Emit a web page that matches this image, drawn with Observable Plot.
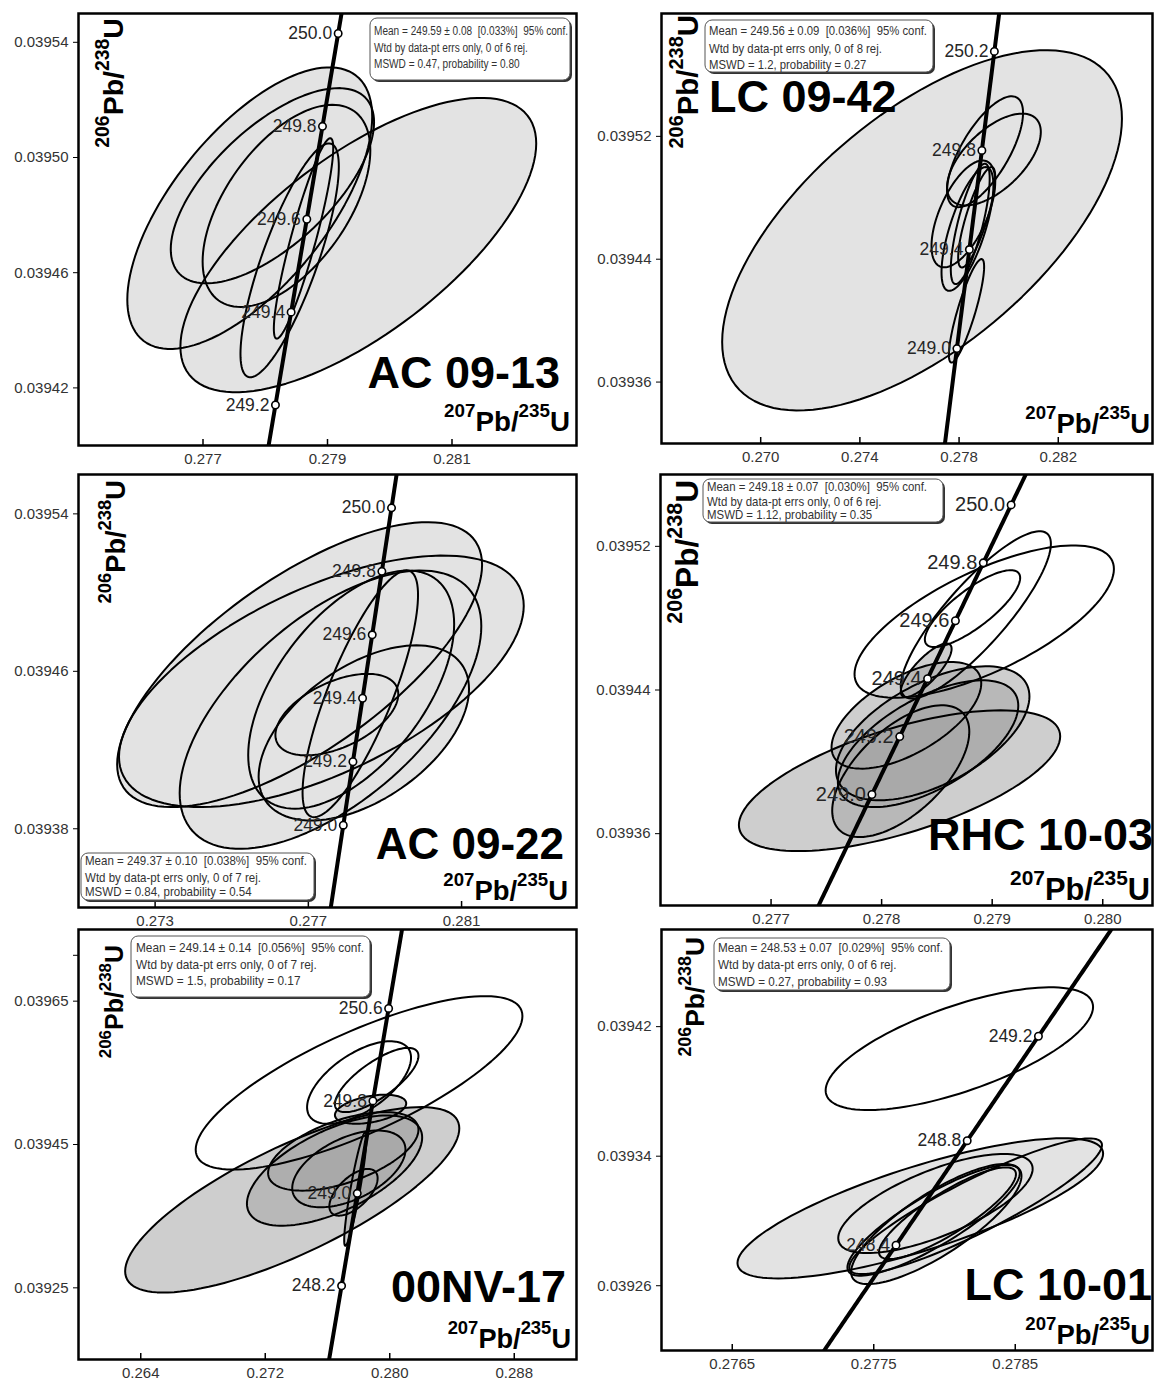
<!DOCTYPE html>
<html><head><meta charset="utf-8">
<script src="https://cdn.jsdelivr.net/npm/d3@7"></script>
<script src="https://cdn.jsdelivr.net/npm/@observablehq/plot@0.6"></script>
<style>
body{margin:0;background:#fff;}
#root{position:relative;width:1154px;height:1380px;overflow:hidden;background:#fff;}
#root svg{position:absolute;}
</style></head><body><div id="root"></div>
<script>
// ---------- DATA ----------
const sampleNames = ["AC 09-13", "LC 09-42", "AC 09-22", "RHC 10-03", "00NV-17", "LC 10-01"];
const infoText = [
  ["Mean = 249.59 ± 0.08  [0.033%]  95% conf.", "Wtd by data-pt errs only, 0 of 6 rej.", "MSWD = 0.47, probability = 0.80"],
  ["Mean = 249.56 ± 0.09  [0.036%]  95% conf.", "Wtd by data-pt errs only, 0 of 8 rej.", "MSWD = 1.2, probability = 0.27"],
  ["Mean = 249.37 ± 0.10  [0.038%]  95% conf.", "Wtd by data-pt errs only, 0 of 7 rej.", "MSWD = 0.84, probability = 0.54"],
  ["Mean = 249.18 ± 0.07  [0.030%]  95% conf.", "Wtd by data-pt errs only, 0 of 6 rej.", "MSWD = 1.12, probability = 0.35"],
  ["Mean = 249.14 ± 0.14  [0.056%]  95% conf.", "Wtd by data-pt errs only, 0 of 7 rej.", "MSWD = 1.5, probability = 0.17"],
  ["Mean = 248.53 ± 0.07  [0.029%]  95% conf.", "Wtd by data-pt errs only, 0 of 6 rej.", "MSWD = 0.27, probability = 0.93"]
];
// concordia age ticks (Ma)
const ageTicks = [
  [249.2, 249.4, 249.6, 249.8, 250.0],
  [249.0, 249.4, 249.8, 250.2],
  [249.0, 249.2, 249.4, 249.6, 249.8, 250.0],
  [249.0, 249.2, 249.4, 249.6, 249.8, 250.0],
  [248.2, 249.0, 249.8, 250.6],
  [248.4, 248.8, 249.2]
];
// axis ticks and labels
const xTicks = [[0.277,0.279,0.281],[0.270,0.274,0.278,0.282],[0.273,0.277,0.281],[0.277,0.278,0.279,0.280],[0.264,0.272,0.280,0.288],[0.276,0.277,0.278]];
const xTickLabels = [["0.277","0.279","0.281"],["0.270","0.274","0.278","0.282"],["0.273","0.277","0.281"],["0.277","0.278","0.279","0.280"],["0.264","0.272","0.280","0.288"],["0.2765","0.2775","0.2785"]];
const yTicks = [[0.03942,0.03946,0.03950,0.03954],[0.03936,0.03944,0.03952],[0.03938,0.03946,0.03954],[0.03936,0.03944,0.03952],[0.03925,0.03945,0.03965,0.039714],[0.03926,0.03934,0.03942]];
const yTickLabels = [["0.03942","0.03946","0.03950","0.03954"],["0.03936","0.03944","0.03952"],["0.03938","0.03946","0.03954"],["0.03936","0.03944","0.03952"],["0.03925","0.03945","0.03965",""],["0.03926","0.03934","0.03942"]];
const xDomains = [[0.275,0.283],[0.266,0.2858],[0.271,0.284],[0.276,0.28045],[0.26,0.292],[0.2755,0.27897]];
const yDomains = [[0.0394,0.03955],[0.03932,0.0396],[0.03934,0.03956],[0.03932,0.03956],[0.03915,0.03975],[0.03922,0.03948]];

// error ellipses: centre (x = 207Pb/235U, y = 206Pb/238U), half-extents, error correlation, used in mean
const ellipses1 = [
  {x:0.279495, y:0.0394696, sx:0.002858, sy:0.0000511, rho:0.69, used:true},
  {x:0.277751, y:0.0394824, sx:0.001967, sy:0.0000489, rho:0.65, used:true},
  {x:0.278115, y:0.0394902, sx:0.001633, sy:0.0000339, rho:0.65, used:true},
  {x:0.278341, y:0.0394832, sx:0.001347, sy:0.0000351, rho:0.55, used:true},
  {x:0.278392, y:0.0394643, sx:0.000790, sy:0.0000406, rho:0.80, used:true},
  {x:0.278615, y:0.0394719, sx:0.000477, sy:0.0000348, rho:0.90, used:true}
];
const ellipses2 = [
  {x:0.276507, y:0.0394588, sx:0.008061, sy:0.0001173, rho:0.62, used:true},
  {x:0.279047, y:0.0395100, sx:0.001532, sy:0.0000361, rho:0.70, used:true},
  {x:0.279406, y:0.0395049, sx:0.001890, sy:0.0000299, rho:0.60, used:true},
  {x:0.278173, y:0.0394695, sx:0.001285, sy:0.0000348, rho:0.60, used:true},
  {x:0.278338, y:0.0394597, sx:0.001046, sy:0.0000403, rho:0.70, used:true},
  {x:0.278450, y:0.0394630, sx:0.000784, sy:0.0000392, rho:0.75, used:true},
  {x:0.278711, y:0.0394673, sx:0.000747, sy:0.0000327, rho:0.80, used:true},
  {x:0.278300, y:0.0394064, sx:0.000710, sy:0.0000337, rho:0.85, used:true}
];
const ellipses3 = [
  {x:0.276772, y:0.0394634, sx:0.004763, sy:0.0000724, rho:0.70, used:true},
  {x:0.277340, y:0.0394549, sx:0.005283, sy:0.0000639, rho:0.60, used:true},
  {x:0.277578, y:0.0394405, sx:0.003937, sy:0.0000707, rho:0.60, used:true},
  {x:0.278118, y:0.0394507, sx:0.002688, sy:0.0000605, rho:0.55, used:true},
  {x:0.278448, y:0.0394287, sx:0.002746, sy:0.0000445, rho:0.50, used:true},
  {x:0.277744, y:0.0394380, sx:0.001604, sy:0.0000207, rho:0.50, used:true},
  {x:0.278356, y:0.0394486, sx:0.001507, sy:0.0000627, rho:0.80, used:true}
];
const ellipses4 = [
  {x:0.278928, y:0.0394781, sx:0.001173, sy:0.0000424, rho:0.69, used:false},
  {x:0.278852, y:0.0394818, sx:0.000679, sy:0.0000466, rho:0.85, used:false},
  {x:0.278822, y:0.0394853, sx:0.000431, sy:0.0000214, rho:0.80, used:false},
  {x:0.278403, y:0.0394510, sx:0.000230, sy:0.0000149, rho:0.80, used:true},
  {x:0.278224, y:0.0394259, sx:0.000677, sy:0.0000297, rho:0.60, used:true},
  {x:0.278462, y:0.0394159, sx:0.000875, sy:0.0000373, rho:0.55, used:true},
  {x:0.278420, y:0.0394101, sx:0.000816, sy:0.0000353, rho:0.60, used:true},
  {x:0.278173, y:0.0393948, sx:0.000620, sy:0.0000367, rho:0.60, used:true},
  {x:0.278162, y:0.0393895, sx:0.001453, sy:0.0000392, rho:0.63, used:true}
];
const ellipses5 = [
  {x:0.278028, y:0.0395360, sx:0.010497, sy:0.0001210, rho:0.77, used:false},
  {x:0.278028, y:0.0395365, sx:0.003340, sy:0.0000576, rho:0.60, used:false},
  {x:0.279161, y:0.0395400, sx:0.002684, sy:0.0000448, rho:0.75, used:false},
  {x:0.273733, y:0.0393728, sx:0.010736, sy:0.0001294, rho:0.77, used:true},
  {x:0.276453, y:0.0394136, sx:0.005630, sy:0.0000769, rho:0.60, used:true},
  {x:0.277014, y:0.0394404, sx:0.004831, sy:0.0000548, rho:0.55, used:true},
  {x:0.277372, y:0.0394160, sx:0.003638, sy:0.0000536, rho:0.50, used:true},
  {x:0.278767, y:0.0394992, sx:0.002290, sy:0.0000203, rho:0.40, used:true},
  {x:0.277670, y:0.0393833, sx:0.001551, sy:0.0000326, rho:0.60, used:true},
  {x:0.277789, y:0.0393880, sx:0.000716, sy:0.0000793, rho:0.90, used:true}
];
const ellipses6 = [
  {x:0.277605, y:0.0394064, sx:0.000945, sy:0.0000379, rho:0.68, used:false},
  {x:0.277329, y:0.0393078, sx:0.001292, sy:0.0000433, rho:0.78, used:true},
  {x:0.277436, y:0.0393108, sx:0.000687, sy:0.0000306, rho:0.70, used:true},
  {x:0.277423, y:0.0393004, sx:0.000609, sy:0.0000342, rho:0.85, used:true},
  {x:0.277442, y:0.0392981, sx:0.000602, sy:0.0000371, rho:0.80, used:true},
  {x:0.277521, y:0.0393048, sx:0.000484, sy:0.0000283, rho:0.85, used:true},
  {x:0.277720, y:0.0393091, sx:0.000893, sy:0.0000419, rho:0.90, used:true}
];
const allEllipses = [ellipses1, ellipses2, ellipses3, ellipses4, ellipses5, ellipses6];

// U decay constants (per Ma)
const L238 = 1.55125e-4, L235 = 9.8485e-4;

// ---------- LAYOUT ----------
const frames = [[78,13,576,445],[661,13,1152,443],[78,474,576,907],[660,474,1152,905],[78,929,576,1359],[661,929,1152,1350]];
const fillStyle = [
  {fill:"#e3e3e3", op:1}, {fill:"#e3e3e3", op:1}, {fill:"#e3e3e3", op:1},
  {fill:"#a6a6a6", op:0.55}, {fill:"#a6a6a6", op:0.55}, {fill:"#e3e3e3", op:1}
];
const ageFont = [17.5, 17.5, 17.5, 20, 17.5, 17.5];
const namePos = [{x:560,y:388,a:"end",s:45},{x:709,y:112,a:"start",s:45},{x:564,y:859,a:"end",s:44},{x:1153,y:850,a:"end",s:45},{x:566,y:1302,a:"end",s:45},{x:1152,y:1300,a:"end",s:45}];
const xLabPos = [{x:570,y:431,s:0.99},{x:1150,y:433,s:0.98},{x:568,y:900,s:0.98},{x:1150,y:900,s:1.1},{x:571,y:1348,s:0.97},{x:1150,y:1344,s:0.98}];
const yLabPos = [{x:123,y:18,s:1.02},{x:698,y:15,s:1.05},{x:125,y:480,s:0.97},{x:698,y:480,s:1.13},{x:123,y:945,s:0.89},{x:704,y:937,s:0.94}];
const boxes = [
  {l:370,t:18,r:570,b:80, tx:374, base:[34.5,52,67.5], w:194, fs:12.5},
  {l:705,t:20,r:933,b:72, tx:709, base:[35,52.5,68.5], w:218, fs:13.5},
  {l:81,t:853,r:314,b:900, tx:85, base:[865,881.5,896], w:222, fs:13.5},
  {l:703,t:479,r:943,b:522, tx:707, base:[491,505.5,519], w:220, fs:13},
  {l:131,t:936,r:370,b:997, tx:136, base:[952,969,985], w:228, fs:13.5},
  {l:714,t:938,r:950,b:990, tx:718, base:[952,969,985.5], w:225, fs:13.5}
];

const root = document.getElementById("root");
const conc = t => ({t, x: Math.expm1(L235 * t), y: Math.expm1(L238 * t)});

function outline(list) {
  const N = 120, pts = [];
  list.forEach((e, i) => {
    const q = Math.sqrt(1 - e.rho * e.rho);
    for (let k = 0; k < N; k++) {
      const a = 2 * Math.PI * k / N;
      pts.push({id: i, used: e.used, x: e.x + e.sx * Math.cos(a), y: e.y + e.sy * (e.rho * Math.cos(a) + q * Math.sin(a))});
    }
  });
  return pts;
}

for (let i = 0; i < 6; i++) {
  const f = frames[i];
  const W = f[2] - f[0], H = f[3] - f[1];
  const mL = 75, mR = 4, mT = 6, mB = 30;
  const pts = outline(allEllipses[i]);
  const ages = ageTicks[i];
  const tickPts = ages.map(t => ({...conc(t), label: t.toFixed(1)}));
  const curve = d3.range(ages[0] - 3, ages[ages.length - 1] + 3, 0.01).map(conc);
  const xt = xTicks[i], yt = yTicks[i];
  const plot = Plot.plot({
    width: W + mL + mR, height: H + mT + mB,
    marginLeft: mL, marginRight: mR, marginTop: mT, marginBottom: mB,
    x: {domain: xDomains[i], label: null},
    y: {domain: yDomains[i], label: null},
    style: {background: "transparent", fontFamily: "'Liberation Sans', Arial, sans-serif", color: "#333", overflow: "visible"},
    marks: [
      Plot.line(pts.filter(d => d.used), {x: "x", y: "y", z: "id", curve: "linear-closed", fill: fillStyle[i].fill, fillOpacity: fillStyle[i].op, stroke: "none", clip: true}),
      Plot.line(pts, {x: "x", y: "y", z: "id", curve: "linear-closed", stroke: "black", strokeWidth: 2, clip: true}),
      Plot.line(curve, {x: "x", y: "y", stroke: "black", strokeWidth: 4, clip: true}),
      Plot.dot(tickPts, {x: "x", y: "y", r: 3.7, fill: "white", stroke: "black", strokeWidth: 1.6}),
      Plot.text(tickPts, {x: "x", y: "y", text: "label", textAnchor: "end", dx: -6, fontSize: ageFont[i], fill: "#262626"}),
      Plot.ruleX(xt, {x: d => d, insetTop: H - 6, stroke: "black", strokeWidth: 1.5}),
      Plot.axisX({ticks: xt, tickSize: 0, tickPadding: 8, fontSize: 15, label: null, tickFormat: d => xTickLabels[i][xt.indexOf(d)]}),
      Plot.axisY({ticks: yt, tickSize: 5, tickPadding: 5, fontSize: 15, label: null, stroke: "black", tickFormat: d => yTickLabels[i][yt.indexOf(d)]}),
      Plot.frame({stroke: "black", strokeWidth: 2.5})
    ]
  });
  plot.style.left = (f[0] - mL) + "px";
  plot.style.top = (f[1] - mT) + "px";
  root.appendChild(plot);
}

// ---------- TEXT OVERLAY ----------
const NS = "http://www.w3.org/2000/svg";
const ov = document.createElementNS(NS, "svg");
ov.setAttribute("width", 1154); ov.setAttribute("height", 1380);
ov.style.left = "0px"; ov.style.top = "0px";
root.appendChild(ov);
function el(tag, attrs, parent) {
  const e = document.createElementNS(NS, tag);
  for (const k in attrs) e.setAttribute(k, attrs[k]);
  (parent || ov).appendChild(e);
  return e;
}
function ratioLabel(parent, x, y, s, sup1, sup2, rotate) {
  const main = 28 * s, sup = 19 * s, shift = 14 * s;
  const t = el("text", {x, y, "text-anchor": "end", "font-family": "'Liberation Sans', Arial, sans-serif", "font-weight": "bold", fill: "#000"}, parent);
  if (rotate) t.setAttribute("transform", `rotate(-90 ${x} ${y})`);
  const parts = [[sup1, sup, -shift], ["Pb/", main, shift], [sup2, sup, -shift], ["U", main, shift]];
  for (const [txt, fs, dy] of parts) {
    const ts = el("tspan", {"font-size": fs, dy}, t);
    ts.textContent = txt;
  }
}
for (let i = 0; i < 6; i++) {
  // info box
  const b = boxes[i];
  el("rect", {x: b.l + 2, y: b.t + 2, width: b.r - b.l, height: b.b - b.t, rx: 7, fill: "#333"});
  el("rect", {x: b.l, y: b.t, width: b.r - b.l, height: b.b - b.t, rx: 7, fill: "#fff", stroke: "#555", "stroke-width": 1});
  const lines = infoText[i].map((txt, j) => {
    const t = el("text", {x: b.tx, y: b.base[j], "font-family": "'Liberation Sans Narrow', 'Arial Narrow', 'Liberation Sans', sans-serif", "font-size": b.fs, fill: "#333", style: "white-space:pre"});
    t.textContent = txt;
    return t;
  });
  const L1 = lines[0].getComputedTextLength();
  const k = L1 > 0 ? b.w / L1 : 1;
  lines.forEach(t => {
    const L = t.getComputedTextLength();
    if (L > 0) { t.setAttribute("textLength", (L * k).toFixed(1)); t.setAttribute("lengthAdjust", "spacingAndGlyphs"); }
  });
  // sample name
  const n = namePos[i];
  const nt = el("text", {x: n.x, y: n.y, "text-anchor": n.a, "font-family": "'Liberation Sans', Arial, sans-serif", "font-weight": "bold", "font-size": n.s, fill: "#000"});
  nt.textContent = sampleNames[i];
  // axis titles
  const xl = xLabPos[i], yl = yLabPos[i];
  ratioLabel(ov, xl.x, xl.y, xl.s, "207", "235", false);
  ratioLabel(ov, yl.x, yl.y, yl.s, "206", "238", true);
}
</script>
</body></html>
